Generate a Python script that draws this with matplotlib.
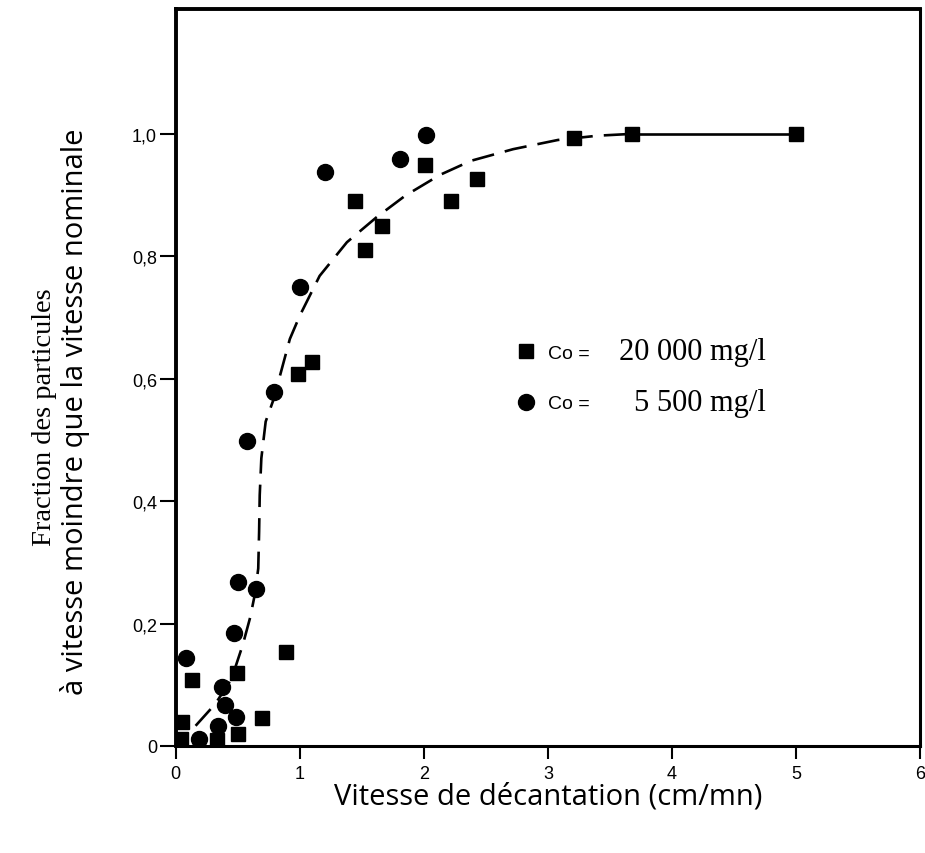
import matplotlib.pyplot as plt

# Co = 20 000 mg/l (squares)
x_20000 = [0.04, 0.054, 0.135, 0.336, 0.497, 0.50, 0.694, 0.887, 0.986, 1.10,
           1.446, 1.527, 1.66, 2.01, 2.22, 2.43, 3.21, 3.68, 5.0]
y_20000 = [0.011, 0.039, 0.107, 0.009, 0.119, 0.020, 0.046, 0.153, 0.608, 0.627,
           0.890, 0.811, 0.849, 0.949, 0.891, 0.926, 0.994, 1.0, 1.0]

# Co = 5 500 mg/l (circles)
x_5500 = [0.086, 0.188, 0.344, 0.376, 0.395, 0.47, 0.484, 0.505, 0.578, 0.645,
          0.79, 1.005, 1.207, 1.81, 2.02]
y_5500 = [0.143, 0.011, 0.032, 0.097, 0.067, 0.184, 0.048, 0.268, 0.498, 0.257,
          0.578, 0.750, 0.938, 0.959, 0.998]

# fitted curve, dashed part then the flat tail
curve_x = [0.16, 0.32, 0.45, 0.54, 0.60, 0.64, 0.665, 0.672, 0.677, 0.69, 0.725,
           0.79, 0.92, 1.0, 1.16, 1.38, 1.62, 1.85, 2.13, 2.38, 2.72, 3.08, 3.4, 3.68]
curve_y = [0.033, 0.069, 0.11, 0.165, 0.21, 0.25, 0.29, 0.35, 0.41, 0.47, 0.53,
           0.567, 0.665, 0.703, 0.768, 0.823, 0.864, 0.899, 0.933, 0.956, 0.975,
           0.990, 0.997, 1.0]
tail_x = [3.68, 5.0]
tail_y = [1.0, 1.0]

x_ticks = [0, 1, 2, 3, 4, 5, 6]
x_labels = ["0", "1", "2", "3", "4", "5", "6"]
y_ticks = [0, 0.2, 0.4, 0.6, 0.8, 1.0]
y_labels = ["0", "0,2", "0,4", "0,6", "0,8", "1,0"]

fig = plt.figure(figsize=(9.25, 8.54), dpi=100)
ax = fig.add_axes([0.19, 0.1253, 0.8046, 0.863])

ax.plot(curve_x, curve_y, color="black", linewidth=1.9,
        linestyle=(0, (8.5, 4.2)), zorder=2)
ax.plot(tail_x, tail_y, color="black", linewidth=1.9, zorder=2)

sq, = ax.plot(x_20000, y_20000, linestyle="none", marker="s", markersize=10,
              color="black", zorder=3)
ci, = ax.plot(x_5500, y_5500, linestyle="none", marker="o", markersize=11.5,
              color="black", zorder=3)

ax.set_xlim(0, 6)
ax.set_ylim(0, 1.204)
ax.set_xticks(x_ticks)
ax.set_xticklabels(x_labels, family="Liberation Sans", fontsize=13)
ax.set_yticks(y_ticks)
ax.set_yticklabels(y_labels, family="Liberation Sans", fontsize=13)

ax.tick_params(axis="y", direction="out", length=11.5, width=1.5, pad=2)
ax.tick_params(axis="x", direction="out", length=9.5, width=1.5, pad=4)

for side in ["left", "top"]:
    ax.spines[side].set_linewidth(2.8)
for side in ["right", "bottom"]:
    ax.spines[side].set_linewidth(2.2)

ax.set_xlabel("Vitesse de décantation (cm/mn)", family="Open Sans",
              fontsize=21, va="top")
ax.xaxis.set_label_coords(0.5, -0.048)

# two-line y label: first line serif, second line sans
fig.text(45 / 925, 1 - 417 / 854, "Fraction des particules", rotation=90,
         ha="center", va="center", family="Liberation Serif", fontsize=20.5)
fig.text(75 / 925, 1 - 412 / 854, "à vitesse moindre que la vitesse nominale",
         rotation=90, ha="center", va="center", family="Open Sans", fontsize=21)

leg = ax.legend([sq, ci], ["Co =", "Co ="], loc="center left",
                bbox_to_anchor=(0.458, 0.499), frameon=False,
                prop={"family": "Liberation Sans", "size": 14},
                handlelength=1.0, handletextpad=0.6, labelspacing=1.7,
                borderpad=0, borderaxespad=0)

values = ["20 000 mg/l", "5 500 mg/l"]
for txt, val in zip(leg.get_texts(), values):
    ax.annotate(val, xy=(1, 0), xycoords=txt, xytext=(127, -3),
                textcoords="offset points", ha="right", va="bottom",
                family="Liberation Serif", fontsize=22, zorder=6)

fig.savefig("out.png", dpi=100)
